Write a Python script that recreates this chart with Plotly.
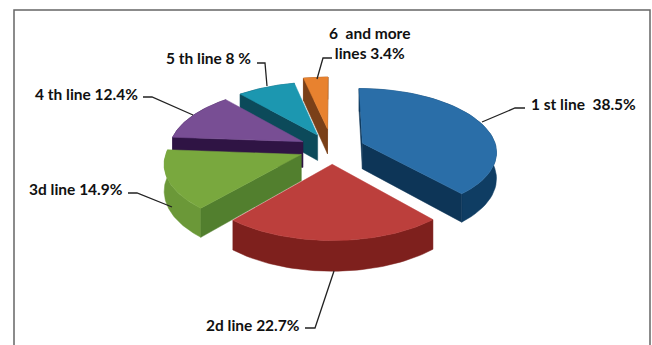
import math
import plotly.graph_objects as go

# ---- data ----
categories = ["1 st line", "2d line", "3d line", "4 th line", "5 th line", "6 and more lines"]
shares = [38.5, 22.7, 14.9, 12.4, 8.0, 3.4]
label_texts = ["1 st line  38.5%", "2d line 22.7%", "3d line 14.9%", "4 th line 12.4%",
               "5 th line 8 %", "6  and more<br>lines 3.4%"]

# ---- styling ----
top_colors = ["#2A6EA8", "#BC3F3C", "#79A83E", "#784E94", "#1C97B0", "#E8822F"]
rim_colors = ["#0F3D63", "#7E201D", "#6B9838", "#38184F", "#0D5364", "#8A4A1C"]
cut_colors = ["#0D3557", "#7E201D", "#527F2E", "#2F1444", "#0C4A5A", "#7A4018"]
pulls = [0.245, 0.245, 0.245, 0.245, 0.245, 0.33]
paint_order = [5, 4, 3, 0, 2, 1]

CX, CY, KX, KY, P, DEPTH = 332, 148.5, 134, 62.6, 0.123, 26

label_pos = [(529, 104, "left"), (302, 325, "right"), (125, 189, "right"), (140, 94, "right"),
             (253, 58, "right"), (369, 43, "center")]
leaders = [
    [(482, 122), (515, 108), (525, 108)],
    [(334, 271), (315, 328), (305, 328)],
    [(172, 207), (147, 197), (137, 193), (128, 193)],
    [(193, 115), (152, 97), (143, 97)],
    [(267, 86), (265, 63), (257, 63)],
    [(317, 79), (323, 58), (332, 58)],
]


def project(x, y, z=0.0):
    s = 1 / (1 + P * y)
    return CX + KX * x * s, CY - KY * y * s + DEPTH * z * s


def area(poly):
    return sum(poly[i][0] * poly[(i + 1) % len(poly)][1] - poly[(i + 1) % len(poly)][0] * poly[i][1]
               for i in range(len(poly))) / 2


fig = go.Figure()


def add_poly(poly, color, name):
    xs = [p[0] for p in poly] + [poly[0][0]]
    ys = [p[1] for p in poly] + [poly[0][1]]
    fig.add_trace(go.Scatter(x=xs, y=ys, mode="lines", fill="toself", fillcolor=color,
                             line=dict(color=color, width=0.5), name=name, hoverinfo="skip"))


total = sum(shares)
starts = []
acc = 0.0
for v in shares:
    starts.append(acc)
    acc += v / total * 2 * math.pi

for i in paint_order:
    a0 = starts[i]
    a1 = a0 + shares[i] / total * 2 * math.pi
    mid = (a0 + a1) / 2
    ox, oy = pulls[i] * math.sin(mid), pulls[i] * math.cos(mid)
    angles = [a0 + (a1 - a0) * k / 48 for k in range(49)]
    rim = [(ox + math.sin(a), oy + math.cos(a)) for a in angles]
    top_arc = [project(x, y, 0) for x, y in rim]
    low_arc = [project(x, y, 1) for x, y in rim]
    apex_t, apex_b = project(ox, oy, 0), project(ox, oy, 1)
    add_poly(top_arc + low_arc[::-1], rim_colors[i], categories[i])
    wall0 = [apex_t, top_arc[0], low_arc[0], apex_b]
    wall1 = [apex_t, apex_b, low_arc[-1], top_arc[-1]]
    # a cut face is only drawn when it turns toward the viewer
    if area(wall0) < 0:
        add_poly(wall0, cut_colors[i], categories[i])
    if area(wall1) < 0:
        add_poly(wall1, cut_colors[i], categories[i])
    add_poly([apex_t] + top_arc, top_colors[i], categories[i])

for path in leaders:
    fig.add_trace(go.Scatter(x=[p[0] for p in path], y=[p[1] for p in path], mode="lines",
                             line=dict(color="#222222", width=1.3), hoverinfo="skip"))

annotations = []
for text, (x, y, anchor) in zip(label_texts, label_pos):
    annotations.append(dict(x=x, y=y, xref="x", yref="y", text=text, showarrow=False,
                            xanchor=anchor, yanchor="middle", align="center",
                            font=dict(family="Lato", size=15.5, color="#111111", weight="bold")))

frame = dict(type="path", path="M14,345 L14,10 L650,10 L650,345",
             line=dict(color="#666666", width=1.5), xref="x", yref="y")

fig.update_layout(
    width=652, height=345, margin=dict(l=0, r=0, t=0, b=0), showlegend=False,
    paper_bgcolor="#FFFFFF", plot_bgcolor="#FFFFFF", annotations=annotations, shapes=[frame],
    xaxis=dict(range=[0, 652], visible=False, fixedrange=True),
    yaxis=dict(range=[345, 0], visible=False, fixedrange=True),
)
fig.write_html("out.html", config=dict(displayModeBar=False),
               post_script="document.body.style.margin='0';document.body.style.overflow='hidden';")
